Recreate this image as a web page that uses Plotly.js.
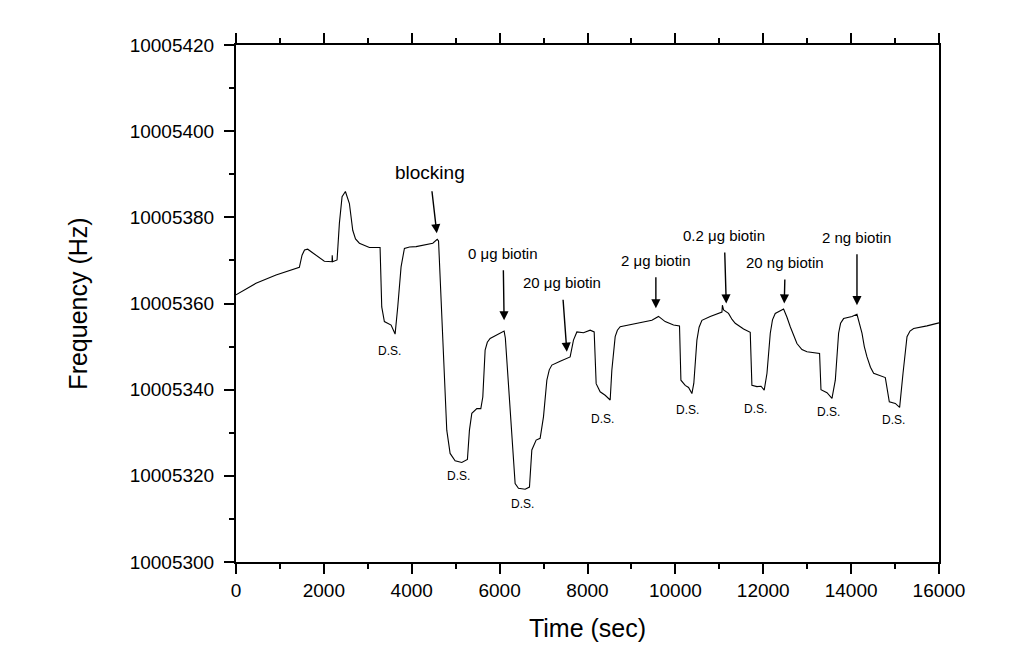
<!DOCTYPE html>
<html>
<head>
<meta charset="utf-8">
<script src="https://cdn.plot.ly/plotly-3.0.1.min.js"></script>
<style>html,body{margin:0;padding:0;background:#fff;}#chart{width:1016px;height:652px;}</style>
</head>
<body>
<div id="chart"></div>
<script>
// Time (sec)
const timeSec = [0, 455, 911, 1442, 1503, 1560, 1632, 1720, 1822, 2011, 2186, 2190, 2200, 2300, 2353, 2414, 2490, 2581, 2657, 2720, 2808, 3036, 3279,
  3317, 3377, 3530, 3621, 3681, 3757, 3833, 3950, 4099, 4479, 4580, 4610, 4797, 4873, 4987, 5139, 5267, 5313, 5367, 5481, 5572,
  5617, 5670, 5720, 5784, 5973, 6102, 6130, 6353, 6429, 6581, 6679, 6733, 6831, 6922, 6998, 7075, 7130, 7189, 7378, 7605, 7681, 7758,
  7909, 8061, 8152, 8197, 8288, 8402, 8516, 8554, 8630, 8680, 8744, 9123, 9465, 9616, 9768, 9958, 10094, 10126, 10224, 10300, 10376,
  10420, 10490, 10540, 10604, 10793, 11021, 11060, 11070, 11097, 11210, 11290, 11362, 11552, 11704, 11742, 11856, 11950, 12022, 12085, 12160, 12210, 12273, 12463,
  12540, 12615, 12767, 12880, 12995, 13282, 13314, 13451, 13564, 13640, 13715, 13760, 13829, 14019, 14133, 14247, 14300, 14361, 14440, 14513, 14778, 14869, 15005, 15104, 15181,
  15272, 15340, 15423, 15727, 15955, 16000];
// Frequency (Hz)
const freqHz = [10005362.0, 10005364.7, 10005366.6, 10005368.4, 10005371.2, 10005372.4, 10005372.6, 10005372.0, 10005371.2, 10005369.8, 10005369.7, 10005371.2, 10005369.7, 10005370.1, 10005378.6, 10005384.8, 10005386.0, 10005383.2, 10005377.0, 10005375.0, 10005374.0, 10005373.0, 10005373.0,
  10005359.2, 10005355.8, 10005355.0, 10005352.9, 10005359.2, 10005368.5, 10005372.8, 10005373.1, 10005373.2, 10005374.0, 10005374.9, 10005374.5, 10005330.6, 10005325.2, 10005323.5, 10005323.1, 10005323.8, 10005330.6, 10005334.5, 10005335.6, 10005335.6,
  10005338.3, 10005349.2, 10005351.0, 10005351.9, 10005352.9, 10005353.6, 10005352.0, 10005318.2, 10005317.1, 10005316.9, 10005317.4, 10005326.0, 10005328.3, 10005328.7, 10005333.7, 10005342.2, 10005344.6, 10005345.7, 10005346.6, 10005347.6, 10005351.5, 10005353.4,
  10005353.2, 10005353.8, 10005353.4, 10005341.4, 10005339.5, 10005338.7, 10005337.6, 10005344.5, 10005352.3, 10005353.8, 10005354.6, 10005355.4, 10005356.1, 10005357.0, 10005355.8, 10005355.0, 10005354.8, 10005342.2, 10005341.0, 10005340.5, 10005339.1,
  10005341.5, 10005351.5, 10005354.5, 10005356.1, 10005357.0, 10005357.8, 10005358.0, 10005359.6, 10005358.5, 10005357.7, 10005356.3, 10005355.4, 10005354.1, 10005353.3, 10005341.0, 10005340.7, 10005340.8, 10005339.9, 10005343.8, 10005353.1, 10005356.2, 10005357.7, 10005358.7,
  10005356.8, 10005354.6, 10005350.7, 10005349.3, 10005348.8, 10005348.4, 10005340.0, 10005339.3, 10005338.0, 10005342.2, 10005353.1, 10005355.4, 10005356.5, 10005357.0, 10005357.5, 10005353.1, 10005350.0, 10005347.6, 10005345.2, 10005343.8, 10005342.8, 10005337.2, 10005336.8, 10005335.9, 10005343.8,
  10005352.3, 10005353.6, 10005354.2, 10005354.8, 10005355.4, 10005355.5];

// Event labels (arrows)
const eventLabels = ["blocking", "0 \u03bcg biotin", "20 \u03bcg biotin", "2 \u03bcg biotin", "0.2 \u03bcg biotin", "20 ng biotin", "2 ng biotin"];
const eventTime = [4570, 6102, 7530, 9556, 11158, 12478, 14133];
const eventFreq = [10005376.3, 10005356.1, 10005348.8, 10005358.9, 10005360.0, 10005360.0, 10005359.6];

// D.S. labels
const dsTime = [3484, 5055, 6512, 8334, 10269, 11818, 13480, 14960];
const dsFreq = [10005348.9, 10005320.0, 10005313.4, 10005333.2, 10005335.2, 10005335.5, 10005334.8, 10005332.9];

const FONT = "Liberation Sans, Arial, Helvetica, sans-serif";

// arrow text offsets in pixels (style)
const evAx = [-7, -1, -5, 0, -2, 1, 0];
const evAy = [-61, -67, -69, -48, -68, -41, -68];
const evSize = [19, 15, 15, 15, 15, 15, 15];

const annotations = [];
eventLabels.forEach((t, i) => {
  annotations.push({
    x: eventTime[i], y: eventFreq[i], xref: 'x', yref: 'y',
    text: t, showarrow: true, ax: evAx[i], ay: evAy[i],
    arrowhead: 2, arrowsize: 1.3, arrowwidth: 1.4, arrowcolor: '#000',
    startstandoff: 7,
    font: {family: FONT, size: evSize[i], color: '#000'}
  });
});
dsTime.forEach((t, i) => {
  annotations.push({
    x: t, y: dsFreq[i], xref: 'x', yref: 'y', text: 'D.S.', showarrow: false,
    font: {family: FONT, size: 12, color: '#000'}
  });
});

const traces = [
  {x: timeSec, y: freqHz, type: 'scatter', mode: 'lines', line: {color: '#000', width: 1.1}, hoverinfo: 'x+y', showlegend: false},
  {x: timeSec, y: freqHz, xaxis: 'x2', type: 'scatter', mode: 'lines', line: {color: 'rgba(0,0,0,0)', width: 0}, hoverinfo: 'skip', showlegend: false}
];

const layout = {
  width: 1016, height: 652,
  margin: {l: 236, r: 77, t: 45, b: 90},
  paper_bgcolor: '#fff', plot_bgcolor: '#fff',
  showlegend: false,
  font: {family: FONT, color: '#000'},
  xaxis: {
    range: [0, 16000], dtick: 2000, tick0: 0, tickformat: 'd',
    showgrid: false, zeroline: false,
    showline: true, linecolor: '#000', linewidth: 2, mirror: true,
    ticks: 'outside', ticklen: 10, tickwidth: 2, tickcolor: '#000',
    minor: {dtick: 1000, ticks: 'outside', ticklen: 5, tickwidth: 2, tickcolor: '#000', showgrid: false},
    tickfont: {family: FONT, size: 19, color: '#000'},
    title: {text: 'Time (sec)', font: {family: FONT, size: 25, color: '#000'}, standoff: 20}
  },
  xaxis2: {
    overlaying: 'x', side: 'top', matches: 'x', range: [0, 16000], dtick: 2000, tick0: 0,
    showgrid: false, zeroline: false, showticklabels: false,
    showline: true, linecolor: '#000', linewidth: 2,
    ticks: 'outside', ticklen: 10, tickwidth: 2, tickcolor: '#000',
    minor: {dtick: 1000, ticks: 'outside', ticklen: 5, tickwidth: 2, tickcolor: '#000', showgrid: false}
  },
  yaxis: {
    range: [10005300, 10005420], dtick: 20, tick0: 10005300,
    tickformat: 'd',
    showgrid: false, zeroline: false,
    showline: true, linecolor: '#000', linewidth: 2, mirror: true,
    ticks: 'outside', ticklen: 10, tickwidth: 2, tickcolor: '#000',
    minor: {dtick: 10, ticks: 'outside', ticklen: 5, tickwidth: 2, tickcolor: '#000', showgrid: false},
    tickfont: {family: FONT, size: 19, color: '#000'},
    ticklabelstandoff: 6,
    title: {text: 'Frequency (Hz)', font: {family: FONT, size: 25, color: '#000'}, standoff: 35}
  },
  annotations: annotations
};

Plotly.newPlot('chart', traces, layout, {displayModeBar: false, staticPlot: true});
</script>
</body>
</html>
